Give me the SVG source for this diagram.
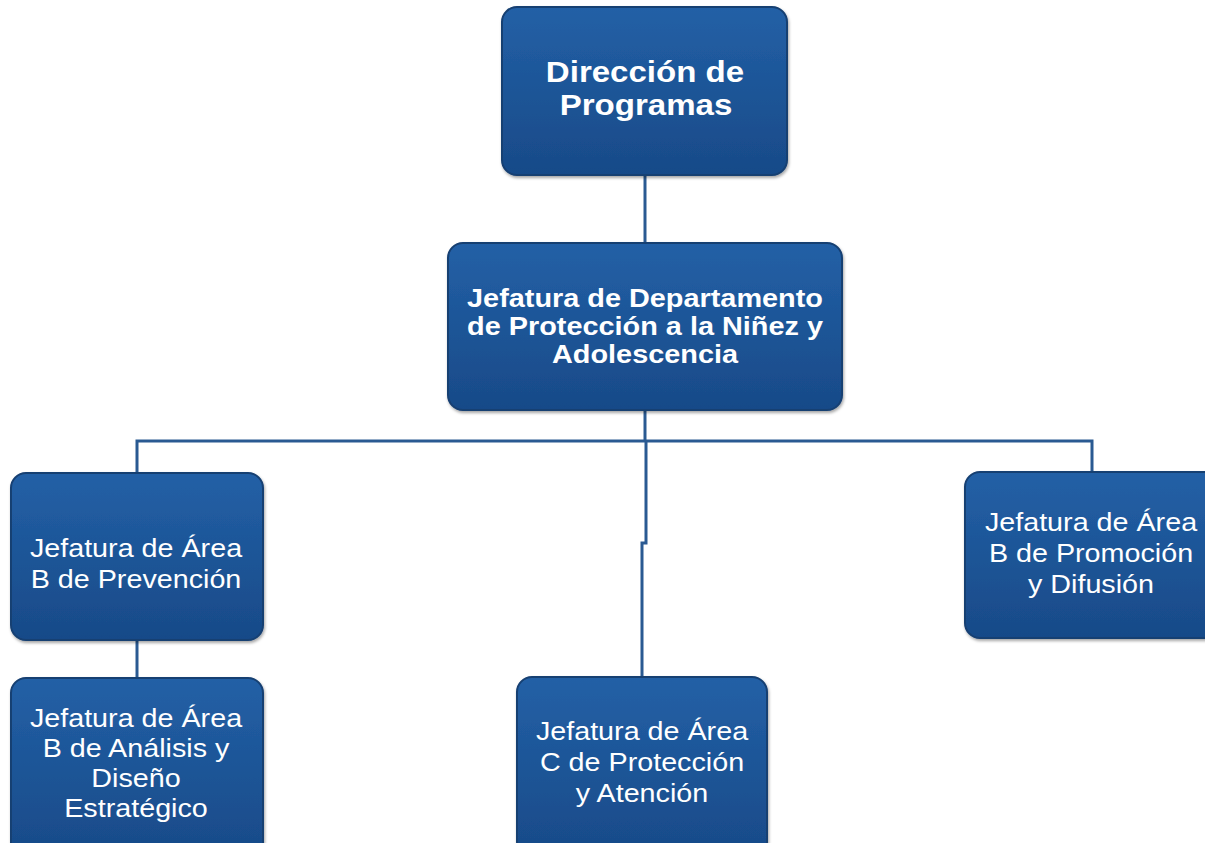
<svg xmlns="http://www.w3.org/2000/svg" width="1205" height="843" viewBox="0 0 1205 843">
<defs>
<linearGradient id="g" x1="0" y1="0" x2="0" y2="1">
<stop offset="0" stop-color="#2360a6"/>
<stop offset="0.5" stop-color="#1d5597"/>
<stop offset="1" stop-color="#184a88"/>
</linearGradient>
<filter id="sh" x="-5%" y="-5%" width="110%" height="115%">
<feDropShadow dx="1" dy="2" stdDeviation="1.5" flood-color="#000" flood-opacity="0.35"/>
</filter>
<style>
.box{fill:url(#g);stroke:#153f72;stroke-width:2;filter:url(#sh)}
.t{font-family:"Liberation Sans",Arial,sans-serif;fill:#fff;text-anchor:middle;font-size:26px}
.b{font-weight:bold}
.big{font-size:29px}
.c{fill:none;stroke:#2a5a92;stroke-width:3}
</style>
</defs>
<rect width="1205" height="843" fill="#fff"/>
<g id="connectors">
<path class="c" d="M645 175 V243"/>
<path class="c" d="M645 410 V441"/>
<path class="c" d="M137 473 V441 H1092 V472"/>
<path class="c" d="M646 441 V543 H642 V677"/>
<path class="c" d="M137 640 V678"/>
</g>
<g id="n1">
<rect class="box" x="502" y="7" width="285" height="168" rx="15"/>
<text class="t b big" transform="translate(645 82) scale(1.14 1)">Dirección de</text>
<text class="t b big" transform="translate(646 115) scale(1.14 1)">Programas</text>
</g>
<g id="n2">
<rect class="box" x="448" y="243" width="394" height="167" rx="15"/>
<text class="t b" transform="translate(645 307) scale(1.11 1)">Jefatura de Departamento</text>
<text class="t b" transform="translate(645 335) scale(1.11 1)">de Protección a la Niñez y</text>
<text class="t b" transform="translate(645 363) scale(1.11 1)">Adolescencia</text>
</g>
<g id="n3">
<rect class="box" x="11" y="473" width="252" height="167" rx="15"/>
<text class="t" transform="translate(136 557) scale(1.105 1)">Jefatura de Área</text>
<text class="t" transform="translate(136 588) scale(1.105 1)">B de Prevención</text>
</g>
<g id="n4">
<rect class="box" x="11" y="678" width="252" height="180" rx="15"/>
<text class="t" transform="translate(136 727) scale(1.105 1)">Jefatura de Área</text>
<text class="t" transform="translate(136 757) scale(1.105 1)">B de Análisis y</text>
<text class="t" transform="translate(136 787) scale(1.105 1)">Diseño</text>
<text class="t" transform="translate(136 817) scale(1.105 1)">Estratégico</text>
</g>
<g id="n5">
<rect class="box" x="517" y="677" width="250" height="180" rx="15"/>
<text class="t" transform="translate(642 740) scale(1.105 1)">Jefatura de Área</text>
<text class="t" transform="translate(642 771) scale(1.105 1)">C de Protección</text>
<text class="t" transform="translate(642 802) scale(1.105 1)">y Atención</text>
</g>
<g id="n6">
<rect class="box" x="965" y="472" width="255" height="166" rx="15"/>
<text class="t" transform="translate(1091 531) scale(1.105 1)">Jefatura de Área</text>
<text class="t" transform="translate(1091 562) scale(1.105 1)">B de Promoción</text>
<text class="t" transform="translate(1091 593) scale(1.105 1)">y Difusión</text>
</g>
</svg>
